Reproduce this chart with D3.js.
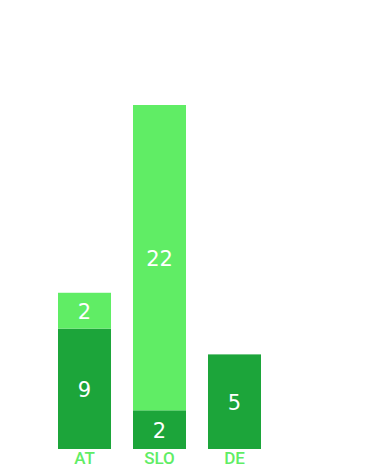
<!DOCTYPE html>
<html>
<head>
<meta charset="utf-8">
<script src="https://cdn.jsdelivr.net/npm/d3@7"></script>
<style>
  html, body { margin: 0; padding: 0; background: #ffffff; }
  svg { display: block; }
</style>
</head>
<body>
<svg id="chart" width="366" height="473"></svg>
<script>
// Categories and series (bar heights; labels as printed)
const categories = ["AT", "SLO", "DE"];
const darkValues = [8.4, 2.7, 6.6];
const lightValues = [2.5, 21.3, 0];
const darkLabels = ["9", "2", "5"];
const lightLabels = ["2", "22", ""];
const yMax = 24;

const darkColor = "#1ca53a";
const lightColor = "#60ed65";

const svg = d3.select("#chart");

const x = d3.scaleBand()
  .domain(categories)
  .range([47, 272])
  .paddingInner(0.2933)
  .paddingOuter(0.1467);

const y = d3.scaleLinear()
  .domain([0, yMax])
  .range([449, 105]);

const rows = categories.map((c, i) => ({
  cat: c,
  dark: darkValues[i],
  light: lightValues[i],
  darkLabel: darkLabels[i],
  lightLabel: lightLabels[i]
}));

const stack = d3.stack().keys(["dark", "light"]);
const series = stack(rows);
const colors = { dark: darkColor, light: lightColor };
const labelKey = { dark: "darkLabel", light: "lightLabel" };

const g = svg.append("g");

series.forEach(s => {
  g.selectAll(null)
    .data(s.filter(d => d[1] - d[0] > 0))
    .join("rect")
    .attr("x", d => x(d.data.cat))
    .attr("width", x.bandwidth())
    .attr("y", d => y(d[1]))
    .attr("height", d => y(d[0]) - y(d[1]))
    .attr("fill", colors[s.key]);

  g.selectAll(null)
    .data(s.filter(d => d[1] - d[0] > 0 && d.data[labelKey[s.key]] !== ""))
    .join("text")
    .attr("x", d => x(d.data.cat) + x.bandwidth() / 2)
    .attr("y", d => (y(d[0]) + y(d[1])) / 2)
    .attr("dy", "0.38em")
    .attr("text-anchor", "middle")
    .attr("fill", "#ffffff")
    .style("font-family", "'DejaVu Sans', sans-serif")
    .style("font-size", "21px")
    .text(d => d.data[labelKey[s.key]]);
});

// Category axis
const axis = d3.axisBottom(x).tickSize(0).tickPadding(3);
const ax = svg.append("g")
  .attr("transform", `translate(0, ${y(0)})`)
  .call(axis);
ax.select(".domain").remove();
ax.selectAll("text")
  .attr("fill", lightColor)
  .style("font-family", "Roboto, sans-serif")
  .style("font-weight", "500")
  .style("font-size", "17px");
</script>
</body>
</html>
